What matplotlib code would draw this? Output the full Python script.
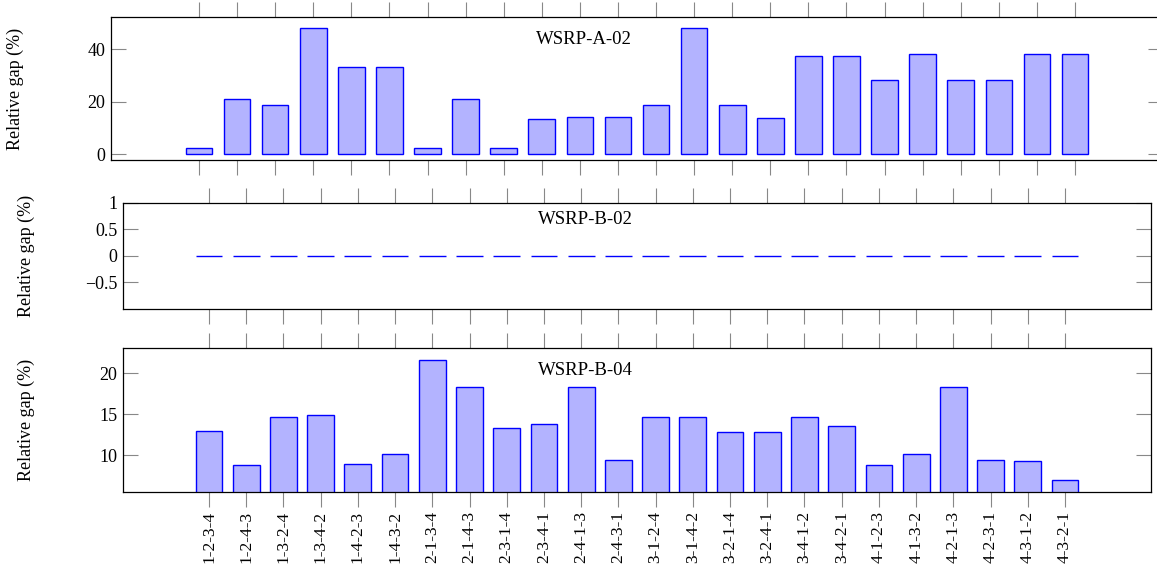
import matplotlib
matplotlib.use("Agg")
import matplotlib.pyplot as plt
import numpy as np

categories = ["1-2-3-4", "1-2-4-3", "1-3-2-4", "1-3-4-2", "1-4-2-3", "1-4-3-2",
              "2-1-3-4", "2-1-4-3", "2-3-1-4", "2-3-4-1", "2-4-1-3", "2-4-3-1",
              "3-1-2-4", "3-1-4-2", "3-2-1-4", "3-2-4-1", "3-4-1-2", "3-4-2-1",
              "4-1-2-3", "4-1-3-2", "4-2-1-3", "4-2-3-1", "4-3-1-2", "4-3-2-1"]

gap_a02 = [2.5, 21.1, 18.8, 48.0, 33.3, 33.3, 2.4, 21.1, 2.4, 13.3, 14.1, 14.1,
           18.8, 48.0, 18.8, 13.7, 37.3, 37.3, 28.4, 38.2, 28.4, 28.4, 38.2, 38.2]
gap_b02 = [0.0] * 24
gap_b04 = [12.93, 8.78, 14.63, 14.91, 8.90, 10.12, 21.62, 18.29, 13.37, 13.78, 18.29, 9.46,
           14.71, 14.71, 12.84, 12.84, 14.71, 13.54, 8.85, 10.12, 18.29, 9.46, 9.34, 7.02]

titles = ["WSRP-A-02", "WSRP-B-02", "WSRP-B-04"]

plt.rcParams['font.family'] = ['Liberation Serif', 'DejaVu Serif']
plt.rcParams['mathtext.fontset'] = 'stix'

W, H = 1157, 570
fig = plt.figure(figsize=(W / 100, H / 100), dpi=100)

def rect(l, r, t, b):
    return [l / W, (H - b) / H, (r - l) / W, (b - t) / H]

ax1 = fig.add_axes(rect(111, 1163, 17, 160))
ax2 = fig.add_axes(rect(123, 1151, 202.7, 309))
ax3 = fig.add_axes(rect(123, 1151, 348, 491.7))

x = np.arange(len(categories))
fill = (0.7, 0.7, 1.0)
edge = (0.0, 0.0, 1.0)

ax1.bar(x, gap_a02, width=0.70, color=fill, edgecolor=edge, linewidth=1.0, zorder=2)
ax2.bar(x, gap_b02, width=0.72, color=fill, edgecolor=edge, linewidth=1.0, zorder=2)
ax3.bar(x, gap_b04, width=0.72, color=fill, edgecolor=edge, linewidth=1.0, zorder=2)

ax1.set_ylim(-2.2, 52.3)
ax1.set_yticks([0, 20, 40])
ax2.set_ylim(-1, 1)
ax2.set_yticks([-0.5, 0, 0.5, 1])
ax2.set_yticklabels(["\u22120.5", "0", "0.5", "1"])
ax3.set_ylim(5.56, 23.09)
ax3.set_yticks([10, 15, 20])

label_x = [-0.0827, -0.0856, -0.0856]
for ax, title, lx in zip([ax1, ax2, ax3], titles, label_x):
    ax.set_xlim(-2.31, 25.31)
    ax.set_xticks(x)
    ax.tick_params(axis='x', which='both', direction='out', length=11, width=0.8,
                   color='#888888', top=True, bottom=True, labelbottom=False)
    ax.tick_params(axis='y', which='both', direction='in', length=11, width=0.8,
                   color='#888888', left=True, right=True, labelsize=13, pad=4)
    for s in ax.spines.values():
        s.set_linewidth(0.9)
        s.set_color('black')
    ax.set_ylabel("Relative gap (%)", fontsize=13)
    ax.yaxis.set_label_coords(lx, 0.5)
    ax.text(0.45, 0.84, title, transform=ax.transAxes, ha='center', va='center', fontsize=13.5)

ax3.set_xticklabels(categories, rotation=90, fontsize=12.5)
ax3.tick_params(axis='x', labelbottom=True, pad=3)

fig.savefig("out.png", dpi=100)
